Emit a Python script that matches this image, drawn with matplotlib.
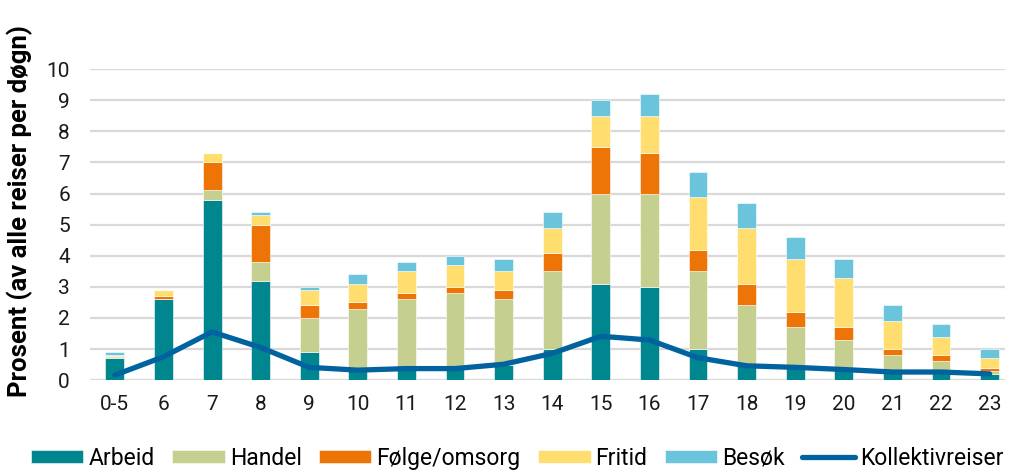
import numpy as np
import matplotlib
matplotlib.use("Agg")
import matplotlib.pyplot as plt

plt.rcParams['font.family'] = ['Roboto', 'DejaVu Sans']

hours = ["0-5", "6", "7", "8", "9", "10", "11", "12", "13", "14", "15", "16",
         "17", "18", "19", "20", "21", "22", "23"]

arbeid = [0.70, 2.60, 5.80, 3.20, 0.90, 0.40, 0.40, 0.40, 0.50, 1.00, 3.10, 3.00,
          1.00, 0.50, 0.40, 0.40, 0.30, 0.30, 0.20]
handel = [0.03, 0.02, 0.30, 0.60, 1.10, 1.90, 2.20, 2.40, 2.10, 2.50, 2.90, 3.00,
          2.50, 1.90, 1.30, 0.90, 0.50, 0.30, 0.10]
folge = [0.03, 0.08, 0.90, 1.20, 0.40, 0.20, 0.20, 0.20, 0.30, 0.60, 1.50, 1.30,
         0.70, 0.70, 0.50, 0.40, 0.20, 0.20, 0.10]
fritid = [0.05, 0.20, 0.30, 0.30, 0.50, 0.60, 0.70, 0.70, 0.60, 0.80, 1.00, 1.20,
          1.70, 1.80, 1.70, 1.60, 0.90, 0.60, 0.30]
besok = [0.08, 0.00, 0.00, 0.10, 0.10, 0.30, 0.30, 0.30, 0.40, 0.50, 0.50, 0.70,
         0.80, 0.80, 0.70, 0.60, 0.50, 0.40, 0.30]
kollektiv = [0.16, 0.75, 1.55, 1.05, 0.41, 0.32, 0.37, 0.37, 0.51, 0.86, 1.41, 1.29,
             0.72, 0.46, 0.41, 0.34, 0.26, 0.26, 0.20]

series = [("Arbeid", arbeid, "#00868f"),
          ("Handel", handel, "#c5cf8f"),
          ("Følge/omsorg", folge, "#ed7507"),
          ("Fritid", fritid, "#ffde6f"),
          ("Besøk", besok, "#6ac5dc")]

fig = plt.figure(figsize=(10.14, 4.71), dpi=100)
ax = fig.add_axes([0.0888, 0.193, 0.902, 0.660])

x = np.arange(len(hours))
bottom = np.zeros(len(hours))
handles = []
for name, vals, col in series:
    vals = np.array(vals)
    b = ax.bar(x, vals, 0.39, bottom=bottom, color=col, label=name,
               edgecolor="white", linewidth=0.4, zorder=2)
    handles.append(b)
    bottom = bottom + vals

ln, = ax.plot(x, kollektiv, color="#00639f", linewidth=3.8, label="Kollektivreiser",
              solid_capstyle="round", solid_joinstyle="round", zorder=3)
handles.append(ln)

ax.set_ylim(0, 10)
ax.set_xlim(-0.51, len(hours) - 0.69)
ax.set_yticks(range(0, 11))
ax.set_xticks(x)
ax.set_xticklabels(hours)
ax.yaxis.grid(True, color="#d9d9d9", linewidth=1.6, zorder=0)
ax.set_axisbelow(True)
for s in ax.spines.values():
    s.set_visible(False)
ax.tick_params(axis="both", length=0, labelsize=15, colors="#1a1a1a")
ax.tick_params(axis="y", pad=14.5)
ax.tick_params(axis="x", pad=10.5)
ax.set_ylabel("Prosent (av alle reiser per døgn)", fontsize=18.5, fontweight="bold")
ax.yaxis.set_label_coords(-0.062, 0.545)

fig.legend(handles=handles, loc="center", bbox_to_anchor=(0.51, 0.027), ncol=6,
           frameon=False, fontsize=16.5, handlelength=2.3, handleheight=0.5,
           columnspacing=0.75, handletextpad=0.22, borderpad=0, borderaxespad=0)

fig.savefig("out.png", dpi=100)
